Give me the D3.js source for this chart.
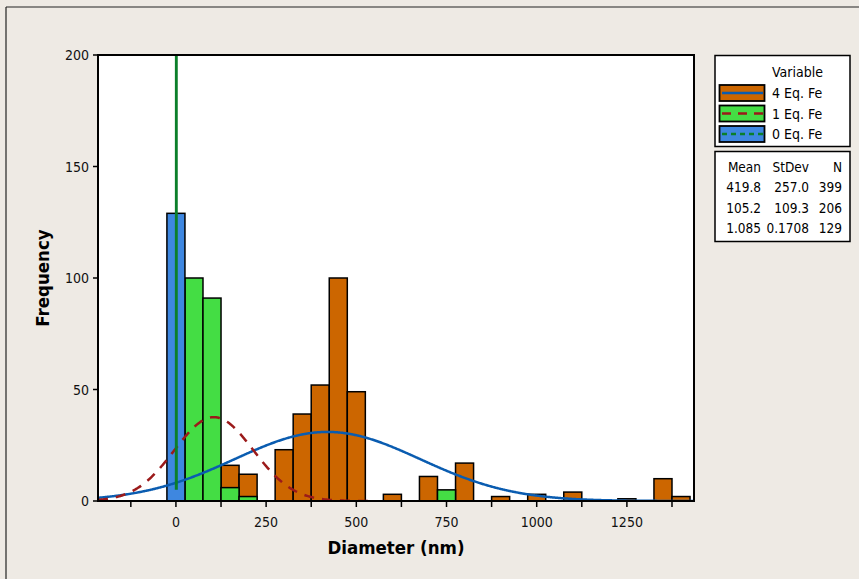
<!DOCTYPE html>
<html>
<head>
<meta charset="utf-8">
<script src="https://cdn.jsdelivr.net/npm/d3@7"></script>
<style>
  html, body { margin: 0; padding: 0; background: #eeeae4; }
  svg { display: block; font-family: "DejaVu Sans Condensed", "DejaVu Sans", sans-serif; }
</style>
</head>
<body>
<div id="chart"></div>
<script>
//-- data (bin centres, bin width 50 nm)
const binWidth = 50;
const centers4 = [150, 200, 300, 350, 400, 450, 500, 600, 700, 800, 900, 1000, 1100, 1250, 1350, 1400];
const counts4 = [16, 12, 23, 39, 52, 100, 49, 3, 11, 17, 2, 3, 4, 1, 10, 2];
const centers1 = [50, 100, 150, 200, 750];
const counts1 = [100, 91, 6, 2, 5];
const centers0 = [0];
const counts0 = [129];

//-- legend + stats table
const seriesNames = ["4 Eq. Fe", "1 Eq. Fe", "0 Eq. Fe"];
const meanText = ["419.8", "105.2", "1.085"];
const stdevText = ["257.0", "109.3", "0.1708"];
const nText = ["399", "206", "129"];

const xTicks = [-125, 0, 125, 250, 375, 500, 625, 750, 875, 1000, 1125, 1250, 1375];
const xLabels = [0, 250, 500, 750, 1000, 1250];
const yTicks = [0, 50, 100, 150, 200];

//-- dimensions
const width = 859, height = 579;
const plot = { left: 98, right: 694, top: 55, bottom: 501 };
const fills = ["#cc6600", "#44dd44", "#3e87e0"];
const curveColors = ["#0a5cb0", "#9b1a1a", "#0b7f2a"];

const svg = d3.select("#chart").append("svg")
  .attr("width", width).attr("height", height);

//-- outer frame lines
svg.append("line").attr("x1", 6).attr("x2", width).attr("y1", 7).attr("y2", 7)
  .attr("stroke", "#222").attr("stroke-width", 1.2);
svg.append("line").attr("x1", 6).attr("x2", 6).attr("y1", 7).attr("y2", height)
  .attr("stroke", "#222").attr("stroke-width", 1.2);

const x = d3.scaleLinear().domain([-216, 1436]).range([plot.left, plot.right]);
const y = d3.scaleLinear().domain([0, 200]).range([plot.bottom, plot.top]);

svg.append("rect")
  .attr("x", plot.left).attr("y", plot.top)
  .attr("width", plot.right - plot.left).attr("height", plot.bottom - plot.top)
  .attr("fill", "#fff");

svg.append("clipPath").attr("id", "clip").append("rect")
  .attr("x", plot.left).attr("y", plot.top)
  .attr("width", plot.right - plot.left).attr("height", plot.bottom - plot.top);

const g = svg.append("g").attr("clip-path", "url(#clip)");

//-- bars, drawn back to front
const groups = [[centers4, counts4], [centers1, counts1], [centers0, counts0]];
groups.forEach(([centers, counts], i) => {
  g.append("g").selectAll("rect")
    .data(centers.map((c, k) => ({ c, n: counts[k] })))
    .join("rect")
    .attr("x", (d) => x(d.c - binWidth / 2))
    .attr("y", (d) => y(d.n))
    .attr("width", (d) => x(d.c + binWidth / 2) - x(d.c - binWidth / 2))
    .attr("height", (d) => y(0) - y(d.n))
    .attr("fill", fills[i])
    .attr("stroke", "#000")
    .attr("stroke-width", 1.5);
});

//-- fitted normal curves from the table values
const line = d3.line().x((d) => x(d[0])).y((d) => y(d[1]));
[0, 1, 2].forEach((i) => {
  const mu = +meanText[i], sd = +stdevText[i], n = +nText[i];
  const lo = Math.max(mu - 4 * sd, -216), hi = Math.min(mu + 4 * sd, 1436);
  const step = Math.min(sd / 25, 2);
  const pts = d3.range(lo, hi + step, step).map((v) => [
    v,
    (n * binWidth) / (sd * Math.sqrt(2 * Math.PI)) * Math.exp(-0.5 * ((v - mu) / sd) ** 2),
  ]);
  const p = g.append("path").datum(pts)
    .attr("d", line)
    .attr("fill", "none")
    .attr("stroke", curveColors[i])
    .attr("stroke-width", 2.5);
  if (i === 1) p.attr("stroke-dasharray", "10 8");
});

//-- frame
svg.append("rect")
  .attr("x", plot.left).attr("y", plot.top)
  .attr("width", plot.right - plot.left).attr("height", plot.bottom - plot.top)
  .attr("fill", "none").attr("stroke", "#000").attr("stroke-width", 2);

//-- x axis
const xa = svg.append("g");
xa.selectAll("line").data(xTicks).join("line")
  .attr("x1", (d) => x(d)).attr("x2", (d) => x(d))
  .attr("y1", plot.bottom).attr("y2", plot.bottom + 6)
  .attr("stroke", "#000").attr("stroke-width", 1.5);
xa.selectAll("text").data(xLabels).join("text")
  .attr("x", (d) => x(d)).attr("y", plot.bottom + 26)
  .attr("text-anchor", "middle").attr("font-size", 14).attr("fill", "#111")
  .text((d) => d);

//-- y axis
const ya = svg.append("g");
ya.selectAll("line").data(yTicks).join("line")
  .attr("x1", plot.left - 5).attr("x2", plot.left)
  .attr("y1", (d) => y(d)).attr("y2", (d) => y(d))
  .attr("stroke", "#000").attr("stroke-width", 1.5);
ya.selectAll("text").data(yTicks).join("text")
  .attr("x", plot.left - 9).attr("y", (d) => y(d) + 5)
  .attr("text-anchor", "end").attr("font-size", 14).attr("fill", "#111")
  .text((d) => d);

svg.append("text")
  .attr("x", (plot.left + plot.right) / 2).attr("y", 554)
  .attr("text-anchor", "middle").attr("font-size", 18.5).attr("font-weight", "bold")
  .text("Diameter (nm)");
svg.append("text")
  .attr("transform", `translate(49, ${(plot.top + plot.bottom) / 2}) rotate(-90)`)
  .attr("text-anchor", "middle").attr("font-size", 18.5).attr("font-weight", "bold")
  .text("Frequency");

//-- legend
const lg = svg.append("g");
lg.append("rect").attr("x", 715).attr("y", 55.5).attr("width", 135).attr("height", 91)
  .attr("fill", "#fff").attr("stroke", "#000").attr("stroke-width", 1.5);
lg.append("text").attr("x", 772).attr("y", 77).attr("font-size", 14).text("Variable");
seriesNames.forEach((name, i) => {
  const cy = 93 + i * 20.5;
  lg.append("rect").attr("x", 719.5).attr("y", cy - 8).attr("width", 45).attr("height", 16)
    .attr("fill", fills[i]).attr("stroke", "#000").attr("stroke-width", 1.8);
  lg.append("line").attr("x1", 722).attr("x2", 763).attr("y1", cy).attr("y2", cy)
    .attr("stroke", curveColors[i]).attr("stroke-width", 2.5)
    .attr("stroke-dasharray", i === 0 ? null : i === 1 ? "9 7" : "5 4");
  lg.append("text").attr("x", 772).attr("y", cy + 5).attr("font-size", 14).text(name);
});

//-- stats table
const st = svg.append("g");
st.append("rect").attr("x", 715).attr("y", 151.5).attr("width", 135).attr("height", 90)
  .attr("fill", "#fff").attr("stroke", "#000").attr("stroke-width", 1.5);
const cols = [761, 809, 842];
["Mean", "StDev", "N"].forEach((h, j) => {
  st.append("text").attr("x", cols[j]).attr("y", 172).attr("text-anchor", "end")
    .attr("font-size", 13.5).text(h);
});
[0, 1, 2].forEach((i) => {
  [meanText[i], stdevText[i], nText[i]].forEach((v, j) => {
    st.append("text").attr("x", cols[j]).attr("y", 192 + i * 20.5).attr("text-anchor", "end")
      .attr("font-size", 13.5).text(v);
  });
});
</script>
</body>
</html>
